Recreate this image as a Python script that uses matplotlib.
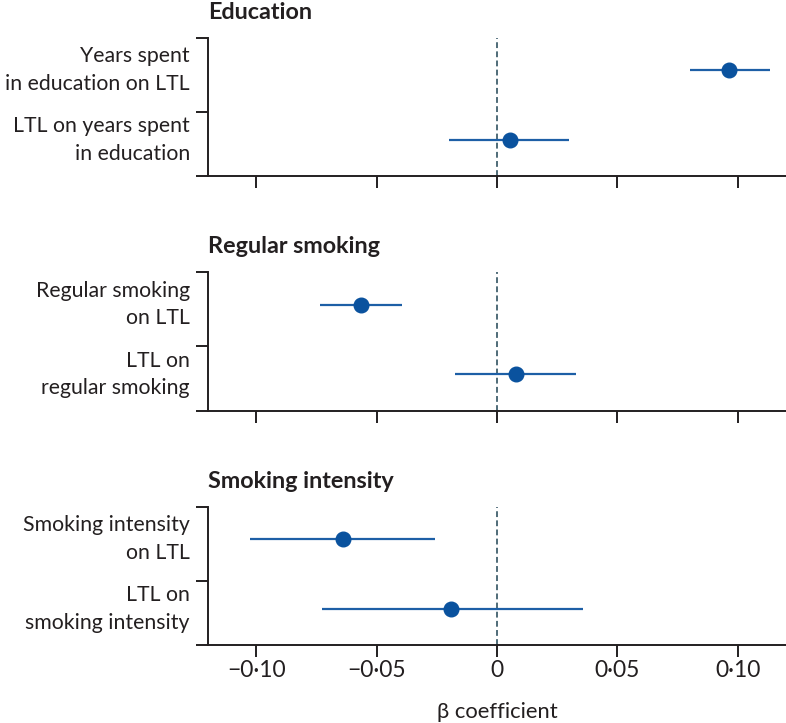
import matplotlib.pyplot as plt

plt.rcParams["font.family"] = ["Lato", "DejaVu Sans"]

panels = ["Education", "Regular smoking", "Smoking intensity"]
row_labels = [
    ["Years spent\nin education on LTL", "LTL on years spent\nin education"],
    ["Regular smoking\non LTL", "LTL on\nregular smoking"],
    ["Smoking intensity\non LTL", "LTL on\nsmoking intensity"],
]
beta = [[0.0962, 0.0053], [-0.0565, 0.0077], [-0.0640, -0.0192]]
ci_low = [[0.0803, -0.0200], [-0.0736, -0.0173], [-0.1026, -0.0728]]
ci_high = [[0.1132, 0.0301], [-0.0395, 0.0328], [-0.0258, 0.0359]]
xticks = [-0.10, -0.05, 0, 0.05, 0.10]
xticklabels = ["\u22120\u00b710", "\u22120\u00b705", "0", "0\u00b705", "0\u00b710"]

W, H = 786, 723
fig = plt.figure(figsize=(W / 100, H / 100), dpi=100)

dark = "#231f20"
pt_color = "#0a529e"
ci_color = "#1d5fa6"
ref_color = "#4f6b78"

tops = [37.5, 272, 506.5]
ax_h = 138.5
left = 208
rows_y = [0.765, 0.26]

for i, name in enumerate(panels):
    ax = fig.add_axes([left / W, 1 - (tops[i] + ax_h) / H, 1 - left / W, ax_h / H])
    ax.set_xlim(-0.12, 0.12)
    ax.set_ylim(0, 1)

    ax.axvline(0, color=ref_color, lw=1.4, ls=(0, (3, 1.7)), zorder=1)
    ax.hlines(rows_y, ci_low[i], ci_high[i], color=ci_color, lw=1.6, zorder=2)
    ax.plot(beta[i], rows_y, "o", color=pt_color, ms=10.5, zorder=3)

    for sp in ["top", "right"]:
        ax.spines[sp].set_visible(False)
    for sp in ["left", "bottom"]:
        ax.spines[sp].set_linewidth(1.4)
        ax.spines[sp].set_color(dark)

    ax.set_xticks(xticks)
    ax.set_yticks([0, 0.465, 1])
    ax.set_yticklabels([])
    ax.tick_params(length=8.6, width=1.4, color=dark, labelsize=16.5, labelcolor=dark, pad=2)
    if i == 2:
        ax.set_xticklabels(xticklabels)
        ax.set_xlabel("\u03b2 coefficient", fontsize=15.8, color=dark, labelpad=15)
    else:
        ax.set_xticklabels([])

    ax.annotate(name, xy=(0, 1), xycoords="axes fraction", xytext=(0, 13.5),
                textcoords="offset points", ha="left", va="baseline",
                fontsize=16.8, fontweight="bold", color=dark)

    for y, lab in zip(rows_y, row_labels[i]):
        ax.annotate(lab, xy=(0, y), xycoords=("axes fraction", "data"), xytext=(-13, 0),
                    textcoords="offset points", ha="right", va="center",
                    multialignment="right", fontsize=15.3, color=dark, linespacing=1.45)

fig.savefig("out.png", dpi=100)
